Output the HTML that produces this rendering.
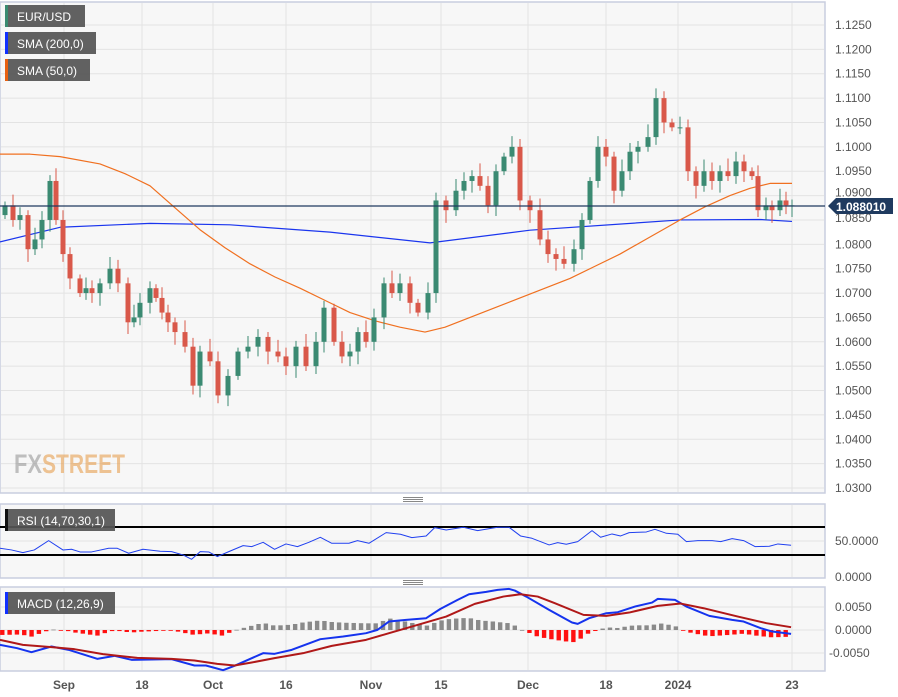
<!DOCTYPE html>
<html><head><meta charset="utf-8"><style>
body{margin:0;background:#fff;width:898px;height:697px;overflow:hidden;font-family:"Liberation Sans",sans-serif}
svg{position:absolute;left:0;top:0}
</style></head><body>
<svg id="s" width="898" height="697" xmlns="http://www.w3.org/2000/svg" font-family="Liberation Sans, sans-serif">
<rect x="0" y="2" width="825" height="491" fill="#f7f7f7" stroke="#c9cedf" stroke-width="1.5"/>
<rect x="0" y="504" width="825" height="74" fill="#f7f7f7" stroke="#c9cedf" stroke-width="1.5"/>
<rect x="0" y="587" width="825" height="84" fill="#f7f7f7" stroke="#c9cedf" stroke-width="1.5"/>
<g id="grid" stroke="#e3e3e3" stroke-width="1"></g>
<g id="sma"></g>
<g id="candles"></g>
<line x1="0" x2="825" y1="206" y2="206" stroke="#1f3a5f" stroke-width="1.2"/>
<g id="ind"></g>
<g stroke="#888" stroke-width="1"><line x1="403" x2="423" y1="497.5" y2="497.5"/><line x1="403" x2="423" y1="499.5" y2="499.5"/><line x1="403" x2="423" y1="501.5" y2="501.5"/>
<line x1="403" x2="423" y1="580.5" y2="580.5"/><line x1="403" x2="423" y1="582.5" y2="582.5"/><line x1="403" x2="423" y1="584.5" y2="584.5"/></g>
<g font-size="12" fill="#555" id="plab"></g>
<path d="M828 206 L836 198 H893 V214 H836 Z" fill="#1f3a5f"/>
<text x="836" y="211" font-size="12" font-weight="bold" fill="#fff">1.088010</text>
<g font-size="12" fill="#555">
<text x="835" y="545">50.0000</text><text x="835" y="581">0.0000</text>
<text x="835" y="611">0.0050</text><text x="835" y="634">0.0000</text><text x="829" y="657">-0.0050</text>
</g>
<g font-size="12" fill="#555" font-weight="bold" text-anchor="middle">
<text x="64" y="689">Sep</text><text x="142" y="689">18</text><text x="213" y="689">Oct</text><text x="286" y="689">16</text>
<text x="371" y="689">Nov</text><text x="441" y="689">15</text><text x="528" y="689">Dec</text><text x="606" y="689">18</text>
<text x="678" y="689">2024</text><text x="792" y="689">23</text></g>
<g opacity="0.6" font-size="27" font-weight="bold" textLength="110"><text x="14" y="473" fill="#999" textLength="28" lengthAdjust="spacingAndGlyphs">FX</text><text x="42" y="473" fill="#e8a050" textLength="83" lengthAdjust="spacingAndGlyphs">STREET</text></g>
<g font-size="12" fill="#fff">
<rect x="5" y="5" width="80" height="22" fill="#555" opacity="0.93"/><rect x="5" y="5" width="3" height="22" fill="#3a8a70"/><text x="17" y="21">EUR/USD</text>
<rect x="5" y="32" width="91" height="22" fill="#555" opacity="0.93"/><rect x="5" y="32" width="3" height="22" fill="#1030ff"/><text x="17" y="48">SMA (200,0)</text>
<rect x="5" y="59" width="85" height="22" fill="#555" opacity="0.93"/><rect x="5" y="59" width="3" height="22" fill="#e86010"/><text x="17" y="75">SMA (50,0)</text>
<rect x="5" y="509" width="110" height="22" fill="#555" opacity="0.93"/><rect x="5" y="509" width="3" height="22" fill="#111"/><text x="17" y="525">RSI (14,70,30,1)</text>
<rect x="5" y="592" width="110" height="22" fill="#555" opacity="0.93"/><rect x="5" y="592" width="3" height="22" fill="#1030ff"/><text x="17" y="608">MACD (12,26,9)</text>
</g>
</svg>
<script>
const NS="http://www.w3.org/2000/svg";
function el(p,t,a){const e=document.createElementNS(NS,t);for(const k in a)e.setAttribute(k,a[k]);p.appendChild(e);return e;}
const Y=p=>25+(1.125-p)/0.005*24.37;
const grid=document.getElementById('grid');
[64,142,213,286,371,441,528,606,678,792].forEach(x=>{el(grid,'line',{x1:x,x2:x,y1:3,y2:492});el(grid,'line',{x1:x,x2:x,y1:505,y2:577});el(grid,'line',{x1:x,x2:x,y1:588,y2:670});});
const plab=document.getElementById('plab');
for(let i=0;i<=19;i++){const p=1.125-i*0.005;const y=Y(p);el(grid,'line',{x1:1,x2:824,y1:y,y2:y});
 let ty=y+4; if(Math.abs(p-1.09)<0.001) ty=y+1; if(Math.abs(p-1.085)<0.001) ty=y+2;
 const t=el(plab,'text',{x:835,y:ty});t.textContent=p.toFixed(4);}
[541,630,607,653].forEach(y=>el(grid,'line',{x1:1,x2:824,y1:y,y2:y}));
const pts=[[5,1.088],[13,1.085],[20,1.086],[28,1.079],[35,1.081],[42,1.085],[50,1.093],[56,1.085],[63,1.078],[70,1.073],[80,1.070],[86,1.071],[92,1.070],[100,1.072],[110,1.075],[118,1.072],[128,1.064],[134,1.065],[140,1.068],[150,1.071],[156,1.069],[162,1.066],[168,1.064],[175,1.062],[185,1.059],[193,1.051],[200,1.058],[210,1.056],[218,1.049],[228,1.053],[238,1.058],[248,1.059],[258,1.061],[268,1.058],[278,1.057],[286,1.055],[296,1.059],[306,1.055],[316,1.060],[324,1.067],[334,1.060],[342,1.057],[350,1.058],[358,1.062],[366,1.060],[374,1.065],[384,1.072],[392,1.070],[400,1.072],[410,1.068],[418,1.066],[428,1.070],[436,1.089],[446,1.087],[456,1.091],[464,1.093],[472,1.094],[480,1.092],[488,1.088],[496,1.095],[504,1.098],[512,1.100],[520,1.089],[530,1.087],[540,1.081],[548,1.078],[556,1.077],[564,1.076],[574,1.079],[582,1.085],[590,1.093],[598,1.100],[606,1.098],[614,1.091],[622,1.095],[630,1.099],[638,1.100],[648,1.102],[656,1.110],[664,1.105],[672,1.104],[680,1.104],[688,1.095],[696,1.092],[704,1.095],[712,1.093],[720,1.095],[728,1.094],[736,1.097],[744,1.095],[752,1.094],[758,1.087],[766,1.088],[772,1.087],[780,1.089],[786,1.088],[792,1.088]];
const cg=document.getElementById('candles');
let prev=1.086;
pts.forEach(([x,c],i)=>{const o=prev;prev=c;const up=c>=o;const col=up?'#3b8a72':'#d9584a';
 const hi=Math.max(o,c)+0.0008+((i*37)%10)/5000, lo=Math.min(o,c)-0.0008-((i*53)%10)/5000;
 el(cg,'line',{x1:x,x2:x,y1:Y(hi),y2:Y(lo),stroke:col,'stroke-width':1});
 const t=Y(Math.max(o,c)),b=Y(Math.min(o,c));el(cg,'rect',{x:x-2.5,y:t,width:5,height:Math.max(1,b-t),fill:col});});
const sg=document.getElementById('sma');
const line=(g,a,f,col,w)=>el(g,'polyline',{points:a.map(([x,v])=>x+','+f(v)).join(' '),fill:'none',stroke:col,'stroke-width':w,'stroke-linejoin':'round'});
line(sg,[[0,1.0805],[60,1.0835],[150,1.0843],[230,1.0840],[330,1.0825],[430,1.0803],[530,1.0829],[680,1.0850],[760,1.0851],[792,1.0847]],Y,'#1a35ee',1.2);
line(sg,[[0,1.0985],[30,1.0985],[60,1.098],[100,1.0965],[125,1.0945],[150,1.092],[175,1.0875],[200,1.083],[225,1.0793],[250,1.076],[275,1.0733],[300,1.071],[325,1.0685],[350,1.066],[375,1.0643],[400,1.063],[425,1.062],[445,1.063],[470,1.065],[495,1.067],[520,1.069],[545,1.071],[570,1.073],[595,1.0755],[620,1.078],[650,1.0815],[680,1.085],[705,1.0877],[730,1.090],[750,1.0915],[770,1.0925],[792,1.0925]],Y,'#f07020',1.2);
const ig=document.getElementById('ind');
const kx=0.572,ky=0.333;
const Z=a=>a.map(([x,y])=>[x*kx,490+y*ky]);
el(ig,'line',{x1:0,x2:825,y1:527,y2:527,stroke:'#000','stroke-width':2});
el(ig,'line',{x1:0,x2:825,y1:555,y2:555,stroke:'#000','stroke-width':2});
const rsi=[[0,175],[20,180],[40,188],[60,180],[85,152],[110,180],[125,178],[140,186],[160,186],[190,175],[205,175],[225,190],[250,178],[280,184],[300,185],[320,195],[335,208],[350,185],[365,186],[380,200],[400,185],[425,167],[440,170],[460,157],[480,178],[500,162],[520,170],[540,157],[560,142],[580,160],[610,160],[625,152],[645,160],[675,128],[700,133],[720,143],[745,138],[760,113],[780,120],[810,112],[835,122],[870,112],[890,112],[910,138],[930,145],[960,165],[975,158],[990,163],[1010,155],[1035,122],[1050,142],[1070,132],[1085,138],[1100,128],[1130,126],[1145,118],[1165,130],[1185,133],[1200,155],[1220,152],[1245,152],[1260,155],[1280,146],[1300,152],[1320,170],[1345,169],[1360,162],[1383,166]];
line(ig,Z(rsi),v=>v,'#2040f0',1);
const macd=[[0,465],[30,475],[55,487],[90,470],[120,480],[170,507],[200,498],[230,510],[300,508],[340,527],[360,527],[390,541],[410,528],[460,490],[480,492],[510,480],[560,448],[600,440],[640,430],[660,420],[680,395],[710,390],[745,385],[770,357],[800,330],[820,313],[850,306],[870,300],[890,297],[900,302],[920,320],[960,360],[1000,398],[1010,402],[1030,385],[1060,370],[1080,367],[1110,350],[1140,338],[1150,327],[1180,330],[1200,350],[1240,378],[1280,390],[1300,395],[1330,415],[1350,425],[1383,432]];
const sig=[[0,450],[40,465],[90,472],[130,478],[180,493],[240,504],[300,507],[340,512],[380,522],[410,527],[440,518],[480,505],[530,490],[580,468],[640,450],[680,430],[720,410],[780,380],[830,342],[880,320],[910,313],[940,320],[970,340],[1020,375],[1060,378],[1100,368],[1150,348],[1190,341],[1230,355],[1290,380],[1340,400],[1383,412]];
const interp=(a,x)=>{for(let i=1;i<a.length;i++)if(x<=a[i][0]){const t=(x-a[i-1][0])/(a[i][0]-a[i-1][0]);return a[i-1][1]+t*(a[i][1]-a[i-1][1]);}return a[a.length-1][1];};
for(let zx=4;zx<=1383;zx+=12.8){const d=(interp(sig,zx)-interp(macd,zx))*ky;const x=zx*kx;
 const pos=d>0;el(ig,'rect',{x:x-2.2,y:pos?630-d:630,width:4.4,height:Math.max(0.8,Math.abs(d)),fill:pos?'#8a8a8a':'#ff1010'});}
line(ig,Z(macd),v=>v,'#1533ee',2);
line(ig,Z(sig),v=>v,'#b01818',2);
</script>
</body></html>
